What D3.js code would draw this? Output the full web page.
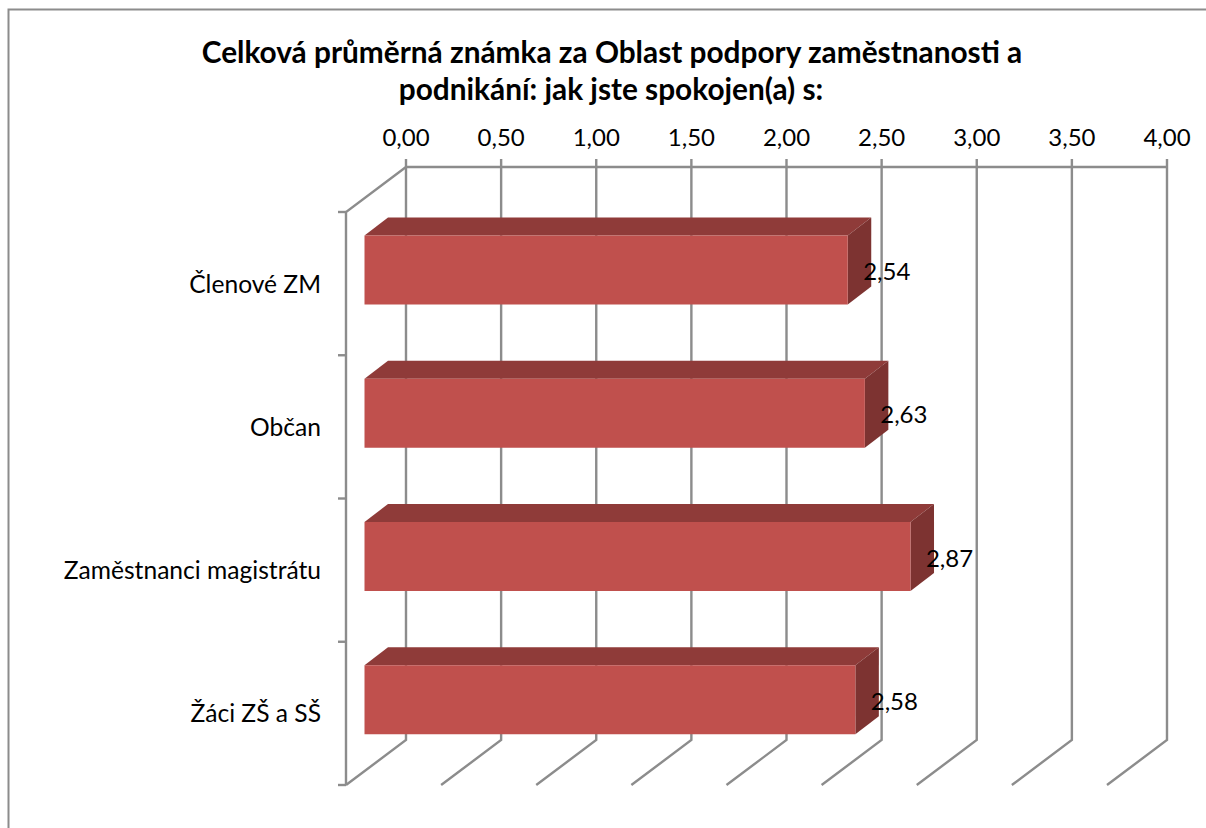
<!DOCTYPE html>
<html>
<head>
<meta charset="utf-8">
<script src="https://cdn.jsdelivr.net/npm/d3@7"></script>
<style>
  html, body { margin: 0; padding: 0; background: #fff; }
  svg { display: block; }
  text { font-family: Lato, sans-serif; fill: #000; }
</style>
</head>
<body>
<svg id="chart" width="1206" height="828"></svg>
<script>
// --- Data ---
const categories = ["Členové ZM", "Občan", "Zaměstnanci magistrátu", "Žáci ZŠ a SŠ"];
const values = [2.54, 2.63, 2.87, 2.58];
const xTicks = [0, 0.5, 1, 1.5, 2, 2.5, 3, 3.5, 4];
const titleLines = [
  "Celková průměrná známka za Oblast podpory zaměstnanosti a",
  "podnikání: jak jste spokojen(a) s:"
];

const svg = d3.select("#chart");
const gridColor = "#8c8c8c";
const fmt = d => d.toFixed(2).replace(".", ",");

// back wall of the 3d box, floor is shifted by depth
const back = { left: 406, right: 1167, top: 167, bottom: 740 };
const floor = { dx: -60, dy: 45 };
// bars sit part way through the box
const barShift = { dx: -41.5, dy: 0 };
const barDepth = { dx: 23.5, dy: -18 };

const xScale = d3.scaleLinear().domain([0, 4]).range([back.left, back.right]);
const yScale = d3.scaleBand()
  .domain(categories)
  .range([back.top + floor.dy, back.bottom + floor.dy]);

const barOffset = 23.5, barHeight = 69;
const poly = d3.line();

// --- Outer frame (cut off at right and bottom) ---
svg.append("path")
  .attr("d", "M8.5,828V9.5H1206")
  .attr("fill", "none")
  .attr("stroke", gridColor)
  .attr("stroke-width", 2);

// --- Title ---
svg.append("g").selectAll("text")
  .data(titleLines)
  .join("text")
  .attr("x", (d, i) => 612 - i)
  .attr("y", (d, i) => 63 + i * 37)
  .attr("text-anchor", "middle")
  .style("font-size", "29.8px")
  .style("font-weight", 700)
  .text(d => d);

// --- Grid: back wall, floor, left wall ---
const grid = svg.append("g")
  .attr("fill", "none")
  .attr("stroke", gridColor)
  .attr("stroke-width", 2.4);

grid.selectAll("path.wall")
  .data(xTicks)
  .join("path")
  .attr("class", "wall")
  .attr("d", d => poly([
    [xScale(d), back.top - 8],
    [xScale(d), back.bottom],
    [xScale(d) + floor.dx, back.bottom + floor.dy]
  ]));

grid.append("path")
  .attr("d", poly([
    [back.right, back.top],
    [back.left, back.top],
    [back.left + floor.dx, back.top + floor.dy],
    [back.left + floor.dx, back.bottom + floor.dy]
  ]));

const yEdges = categories.map(c => yScale(c)).concat(back.bottom + floor.dy);
grid.selectAll("path.ytick")
  .data(yEdges)
  .join("path")
  .attr("class", "ytick")
  .attr("d", d => poly([[back.left + floor.dx - 8, d], [back.left + floor.dx, d]]));

// --- X tick labels ---
svg.append("g").selectAll("text")
  .data(xTicks)
  .join("text")
  .attr("x", d => xScale(d))
  .attr("y", 146)
  .attr("text-anchor", "middle")
  .style("font-size", "24px")
  .text(fmt);

// --- Category labels ---
svg.append("g").selectAll("text")
  .data(categories)
  .join("text")
  .attr("x", 321)
  .attr("y", d => yScale(d) + yScale.bandwidth() / 2 + 9)
  .attr("text-anchor", "end")
  .style("font-size", "24.6px")
  .text(d => d);

// --- Bars ---
const bars = svg.append("g").selectAll("g")
  .data(values)
  .join("g");

const x0 = xScale(0) + barShift.dx;
const xEnd = v => xScale(v) + barShift.dx;
const yTop = i => yScale(categories[i]) + barOffset;

// top face
bars.append("path")
  .attr("fill", "#8f3b39")
  .attr("d", (d, i) => poly([
    [x0, yTop(i)],
    [x0 + barDepth.dx, yTop(i) + barDepth.dy],
    [xEnd(d) + barDepth.dx, yTop(i) + barDepth.dy],
    [xEnd(d), yTop(i)]
  ]) + "Z");

// side face
bars.append("path")
  .attr("fill", "#7d3331")
  .attr("d", (d, i) => poly([
    [xEnd(d), yTop(i)],
    [xEnd(d) + barDepth.dx, yTop(i) + barDepth.dy],
    [xEnd(d) + barDepth.dx, yTop(i) + barDepth.dy + barHeight],
    [xEnd(d), yTop(i) + barHeight]
  ]) + "Z");

// front face
bars.append("rect")
  .attr("fill", "#c0504d")
  .attr("x", x0)
  .attr("y", (d, i) => yTop(i))
  .attr("width", d => xEnd(d) - x0)
  .attr("height", barHeight);

// --- Value labels ---
svg.append("g").selectAll("text")
  .data(values)
  .join("text")
  .attr("x", d => xEnd(d) + 39)
  .attr("y", (d, i) => yTop(i) + barHeight / 2 + 10)
  .attr("text-anchor", "middle")
  .style("font-size", "24px")
  .text(fmt);
</script>
</body>
</html>
